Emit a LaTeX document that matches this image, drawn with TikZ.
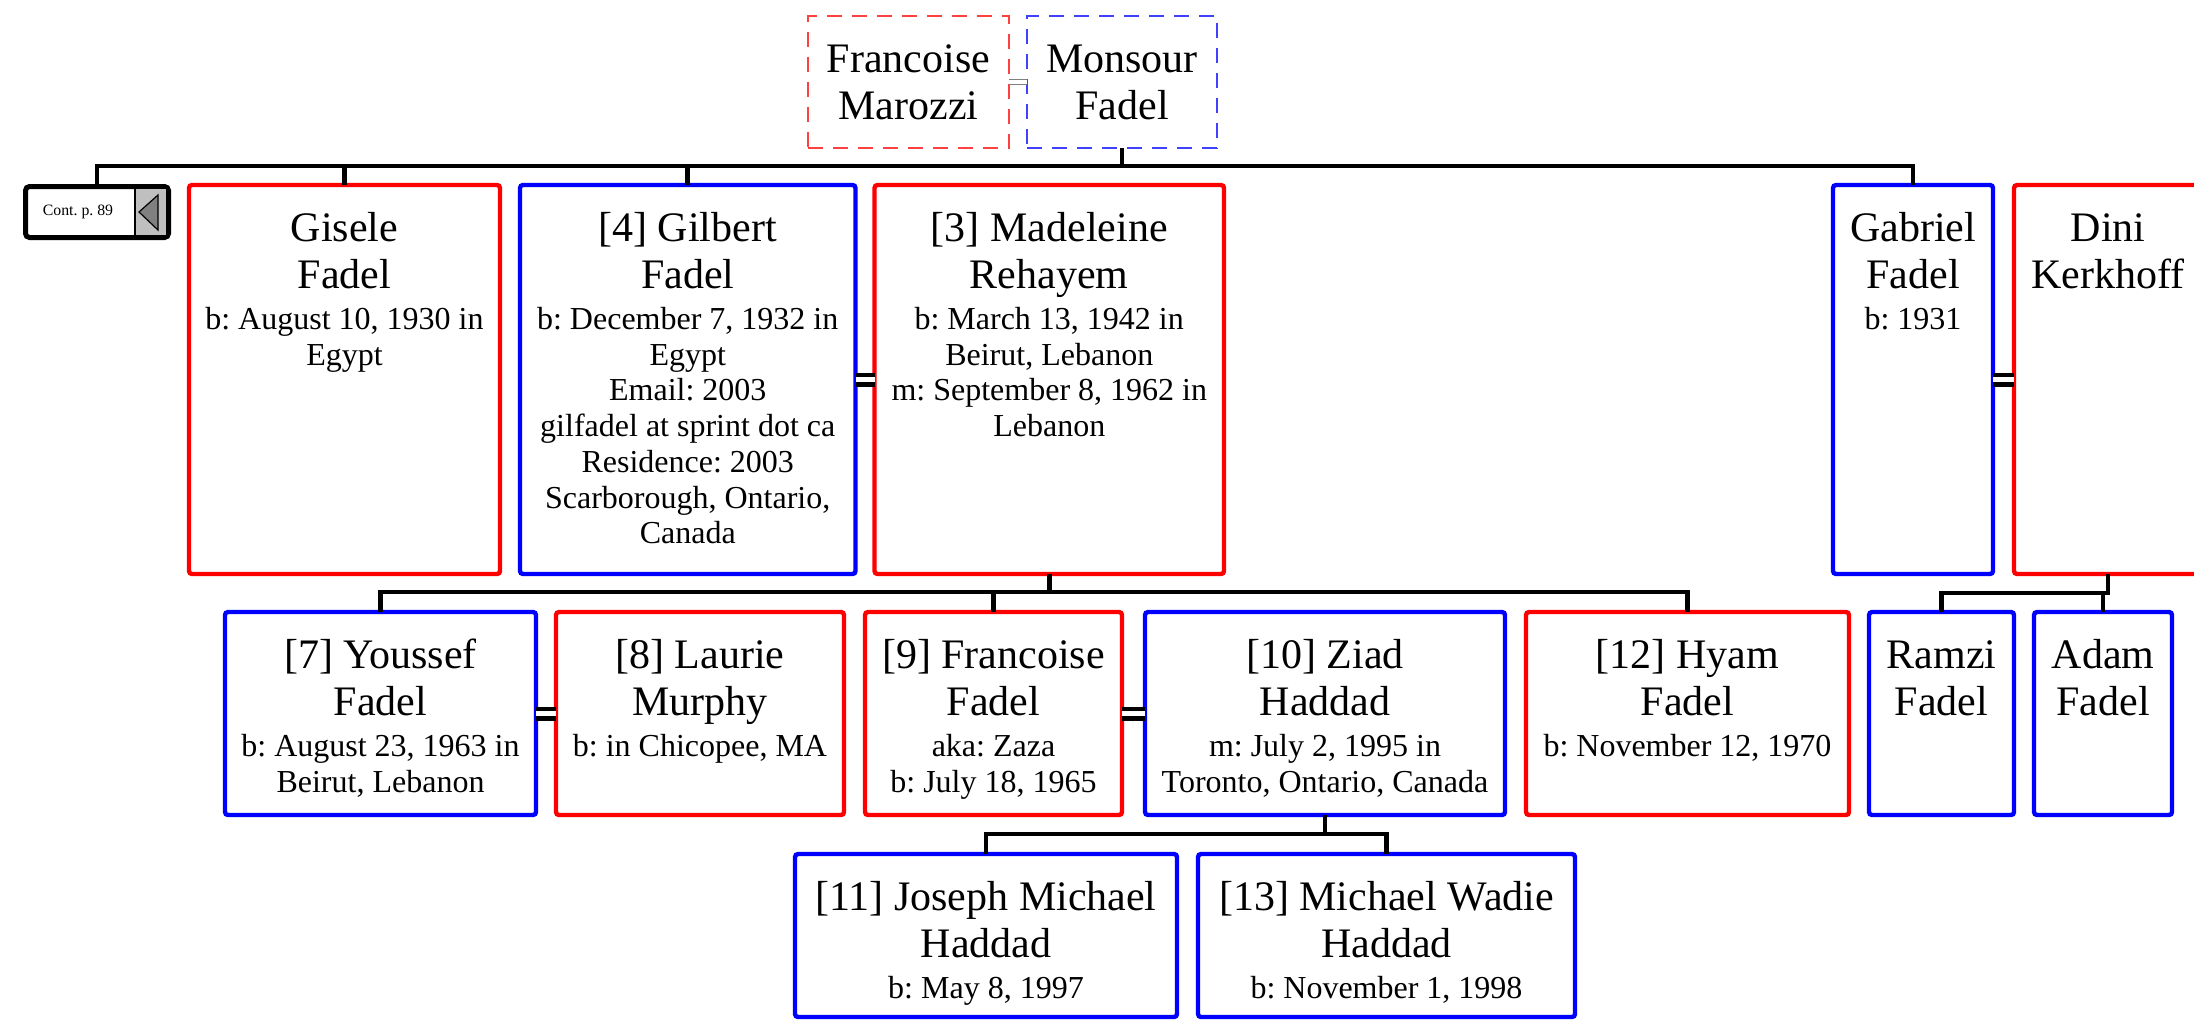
\documentclass[tikz,border=0pt]{standalone}
\usepackage{fontspec}
\setmainfont{Liberation Serif}
\usetikzlibrary{positioning}
\frenchspacing
\newcommand{\namesize}{\fontsize{21}{23.8}\selectfont}
\newcommand{\facts}[1]{\par\centering\fontsize{16}{17.85}\selectfont
  \spaceskip=0pt\xspaceskip=0pt\vspace{2.6pt}#1\par}
\tikzset{
  person/.style={draw=#1,line width=2.2pt,rounded corners=1.5pt,inner sep=0pt,outer sep=0pt,
    anchor=north,align=flush center,font=\namesize,text height=28pt},
  parent/.style={draw=#1,line width=0.6pt,dash pattern=on 7.5pt off 5pt,inner sep=0pt,outer sep=0pt,
    anchor=north,align=flush center,font=\namesize,text height=28pt,text depth=38pt},
  gen1/.style={text depth=166.5pt},
  gen2/.style={text depth=73.5pt},
  gen3/.style={text depth=53.5pt},
  contbox/.style={draw,line width=2.5pt,rounded corners=2pt,inner sep=0pt,outer sep=0pt,
    minimum width=71.5pt,minimum height=25.5pt},
  tree/.style={line width=2.4pt},
  wed/.style={double,line width=2.3pt,double distance=2.4pt},
  wedthin/.style={double,draw=gray,line width=0.5pt,double distance=1.6pt}
}
\begin{document}
\begin{tikzpicture}[x=0.5pt,y=-0.5pt]
  \useasboundingbox (0,0) rectangle (2194,1023);
  % parents
  \node[parent=red!75,text width=100.5pt] (fran) at (908.5,16) {Francoise\\Marozzi};
  \node[parent=blue!75,text width=95pt,right=9pt of fran] (mons) {Monsour\\Fadel};

  % children of Monsour
  \node[contbox] (cont) at (97,212) {};
  \node[font=\fontsize{7.9}{9}\selectfont] (conttext) at ([xshift=-9.5pt]cont.center) {Cont. p. 89};
  \fill[gray!50] (135,189) rectangle (166,235);
  \draw[line width=0.6pt] (135,189) -- (135,235);
  \filldraw[fill=gray,draw=black,line width=0.6pt] (139,212) -- (158,195) -- (158,230) -- cycle;
  \node[person=red,gen1,text width=155.5pt] (gisele) at (344.5,185)
    {Gisele\\Fadel\facts{b: August 10, 1930 in\\Egypt}};
  \node[person=blue,gen1,text width=167.75pt] (gilbert) at (687.75,185)
    {[4] Gilbert\\Fadel\facts{b: December 7, 1932 in\\Egypt\\Email: 2003\\gilfadel at sprint dot ca\\Residence: 2003\\Scarborough, Ontario,\\Canada}};
  \node[person=red,gen1,text width=174.75pt,right=9.5pt of gilbert] (madeleine)
    {[3] Madeleine\\Rehayem\facts{b: March 13, 1942 in\\Beirut, Lebanon\\m: September 8, 1962 in\\Lebanon}};
  \node[person=blue,gen1,text width=80pt] (gabriel) at (1913,185) {Gabriel\\Fadel\facts{b: 1931}};
  \node[person=red,gen1,text width=94pt,right=10.5pt of gabriel] (dini) {Dini\\Kerkhoff};

  % grandchildren
  \node[person=blue,gen2,text width=155.5pt] (youssef) at (380.5,612)
    {[7] Youssef\\Fadel\facts{b: August 23, 1963 in\\Beirut, Lebanon}};
  \node[person=red,gen2,text width=144pt,right=10pt of youssef] (laurie)
    {[8] Laurie\\Murphy\facts{b: in Chicopee, MA}};
  \node[person=red,gen2,text width=128.5pt] (franf) at (993.5,612)
    {[9] Francoise\\Fadel\facts{aka: Zaza\\b: July 18, 1965}};
  \node[person=blue,gen2,text width=180pt,right=11.5pt of franf] (ziad)
    {[10] Ziad\\Haddad\facts{m: July 2, 1995 in\\Toronto, Ontario, Canada}};
  \node[person=red,gen2,text width=161.5pt] (hyam) at (1687.5,612)
    {[12] Hyam\\Fadel\facts{b: November 12, 1970}};
  \node[person=blue,gen2,text width=72.5pt] (ramzi) at (1941.5,612) {Ramzi\\Fadel};
  \node[person=blue,gen2,text width=69pt] (adam) at (2103,612) {Adam\\Fadel};

  % great-grandchildren
  \node[person=blue,gen3,text width=191pt] (joseph) at (986,854)
    {[11] Joseph Michael\\Haddad\facts{b: May 8, 1997}};
  \node[person=blue,gen3,text width=188.5pt] (michael) at (1386.5,854)
    {[13] Michael Wadie\\Haddad\facts{b: November 1, 1998}};

  % marriages
  \draw[wedthin] (fran.east) -- (mons.west);
  \draw[wed] (gilbert.east) -- (madeleine.west);
  \draw[wed] (gabriel.east) -- (dini.west);
  \draw[wed] (youssef.east) -- (laurie.west);
  \draw[wed] (franf.east) -- (ziad.west);

  % descent lines
  \coordinate (kids0) at (0,166);
  \coordinate (kids1) at (0,592);
  \coordinate (kids2) at (0,593);
  \coordinate (kids3) at (0,834);
  \draw[tree] (mons.south) -- (mons.south |- kids0);
  \draw[tree] (cont.north) |- (gabriel.north |- kids0) -- (gabriel.north);
  \foreach \k in {gisele,gilbert}
    \draw[tree] (\k.north) -- (\k.north |- kids0);
  \draw[tree] (madeleine.south) -- (madeleine.south |- kids1);
  \draw[tree] (youssef.north) |- (hyam.north |- kids1) -- (hyam.north);
  \draw[tree] (franf.north) -- (franf.north |- kids1);
  \draw[tree] (dini.south) |- (ramzi.north |- kids2) -- (ramzi.north);
  \draw[tree] (adam.north) -- (adam.north |- kids2);
  \draw[tree] (ziad.south) -- (ziad.south |- kids3);
  \draw[tree] (joseph.north) |- (michael.north |- kids3) -- (michael.north);
\end{tikzpicture}
\end{document}
